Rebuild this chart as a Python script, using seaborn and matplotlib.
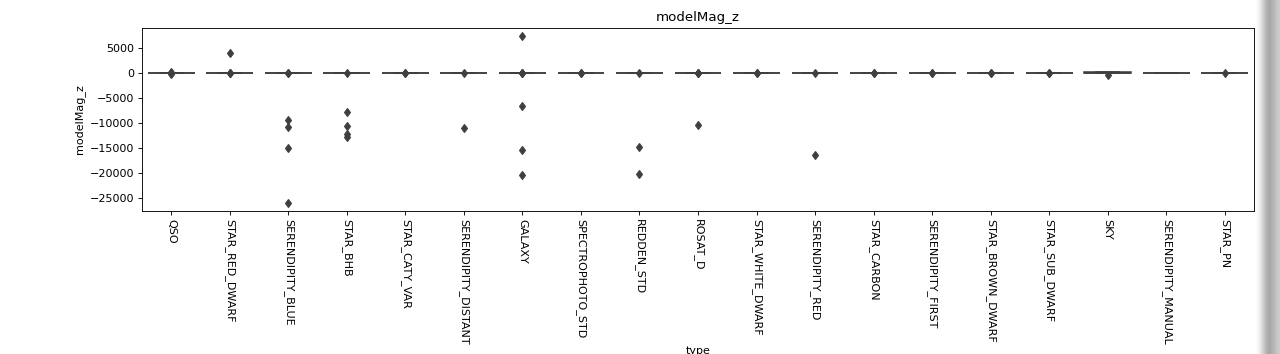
import matplotlib
matplotlib.use('Agg')
import matplotlib.pyplot as plt
import seaborn as sns
import pandas as pd
import numpy as np

types = ['QSO', 'STAR_RED_DWARF', 'SERENDIPITY_BLUE', 'STAR_BHB', 'STAR_CATY_VAR',
         'SERENDIPITY_DISTANT', 'GALAXY', 'SPECTROPHOTO_STD', 'REDDEN_STD', 'ROSAT_D',
         'STAR_WHITE_DWARF', 'SERENDIPITY_RED', 'STAR_CARBON', 'SERENDIPITY_FIRST',
         'STAR_BROWN_DWARF', 'STAR_SUB_DWARF', 'SKY', 'SERENDIPITY_MANUAL', 'STAR_PN']

# typical modelMag_z values seen for every type
typical_mags = [15.8, 16.2, 16.9, 17.0, 17.3, 17.6, 17.9, 18.1, 18.3, 18.5,
                18.7, 18.9, 19.1, 19.3, 19.5, 19.8, 20.1, 20.5, 20.9, 21.4]

# odd / bad values per type
qso_odd = [1.2, 38.5, 160.0, -140.0]
star_red_dwarf_odd = [2.1, 42.0, 95.0, 4050.0]
serendipity_blue_odd = [3.5, 36.0, -9260.0, -10800.0, -14860.0, -25900.0]
star_bhb_odd = [4.0, -7660.0, -10460.0, -12250.0, -12700.0]
star_caty_var_odd = [2.8, 40.0]
serendipity_distant_odd = [5.1, -10920.0]
galaxy_odd = [2.0, 45.0, 120.0, 7400.0, -6460.0, -15320.0, -20400.0]
spectrophoto_std_odd = [3.0, 31.0]
redden_std_odd = [4.2, -14660.0, -20060.0]
rosat_d_odd = [1.8, 48.0, 88.0, -10260.0]
star_white_dwarf_odd = [3.3, 37.0]
serendipity_red_odd = [2.6, -16260.0]
star_carbon_odd = [3.8, 39.0]
serendipity_first_odd = [2.2, 41.0]
star_brown_dwarf_odd = [1.5, 44.0]
star_sub_dwarf_odd = [2.9, 38.0]
serendipity_manual_odd = []
star_pn_odd = [45.0]

# sky fibres have a wider spread
sky_mags = [12.0, 15.0, 17.0, 19.0, 21.0, 23.0, 25.0, 60.0, 120.0, 180.0,
            230.0, 270.0, 300.0, -430.0]

series = {
    'QSO': typical_mags + qso_odd,
    'STAR_RED_DWARF': typical_mags + star_red_dwarf_odd,
    'SERENDIPITY_BLUE': typical_mags + serendipity_blue_odd,
    'STAR_BHB': typical_mags + star_bhb_odd,
    'STAR_CATY_VAR': typical_mags + star_caty_var_odd,
    'SERENDIPITY_DISTANT': typical_mags + serendipity_distant_odd,
    'GALAXY': typical_mags + galaxy_odd,
    'SPECTROPHOTO_STD': typical_mags + spectrophoto_std_odd,
    'REDDEN_STD': typical_mags + redden_std_odd,
    'ROSAT_D': typical_mags + rosat_d_odd,
    'STAR_WHITE_DWARF': typical_mags + star_white_dwarf_odd,
    'SERENDIPITY_RED': typical_mags + serendipity_red_odd,
    'STAR_CARBON': typical_mags + star_carbon_odd,
    'SERENDIPITY_FIRST': typical_mags + serendipity_first_odd,
    'STAR_BROWN_DWARF': typical_mags + star_brown_dwarf_odd,
    'STAR_SUB_DWARF': typical_mags + star_sub_dwarf_odd,
    'SKY': sky_mags,
    'SERENDIPITY_MANUAL': typical_mags + serendipity_manual_odd,
    'STAR_PN': typical_mags + star_pn_odd,
}

df = pd.DataFrame({
    'type': [t for t in types for _ in series[t]],
    'modelMag_z': [v for t in types for v in series[t]],
})

dpi = 80
fig = plt.figure(figsize=(1280 / dpi, 354 / dpi), dpi=dpi)
ax = fig.add_axes([142 / 1280, 1 - 211 / 354, (1254 - 142) / 1280, (211 - 28) / 354])

sns.boxplot(data=df, x='type', y='modelMag_z', order=types, color='#4c72b0',
            linecolor='#3f3f3f', linewidth=1.4, ax=ax,
            flierprops=dict(marker='d', markerfacecolor='#3f3f3f',
                            markeredgecolor='#3f3f3f', markersize=5.5))
ax.set_title('modelMag_z')
ax.set_xlabel('type', labelpad=1)
ax.set_ylabel('modelMag_z')
ax.tick_params(axis='x', labelrotation=270)
ax.set_yticks([5000, 0, -5000, -10000, -15000, -20000, -25000])

# grey shadow strip at right edge of the screenshot
sax = fig.add_axes([1255 / 1280, 0, 25 / 1280, 1])
shade = np.array([[1.0, 0.96, 0.9, 0.82, 0.74, 0.68, 0.66, 0.69, 0.73, 0.77, 0.8]])
sax.imshow(shade, cmap='gray', vmin=0, vmax=1, aspect='auto', interpolation='bilinear')
sax.axis('off')

fig.savefig('out.png', dpi=dpi)
